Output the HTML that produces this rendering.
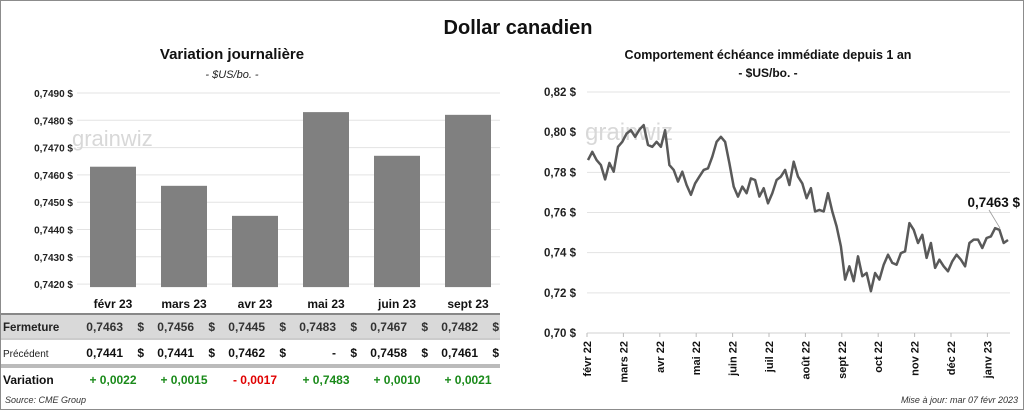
<!DOCTYPE html>
<html><head><meta charset="utf-8">
<style>
body{margin:0;width:1024px;height:410px;overflow:hidden;background:#fff;font-family:"Liberation Sans",sans-serif;}
#wrap{position:absolute;left:0;top:0;width:1022px;height:408px;border:1px solid #8c8c8c;}
</style></head><body>
<div id="wrap"></div>
<svg id="svg" width="1024" height="410" style="position:absolute;left:0;top:0" font-family="Liberation Sans, sans-serif">
<text x="518" y="34" text-anchor="middle" font-size="20" font-weight="bold" fill="#111">Dollar canadien</text>
<text x="232" y="59" text-anchor="middle" font-size="15" font-weight="bold" fill="#111">Variation  journalière</text>
<text x="232" y="78" text-anchor="middle" font-size="11" font-style="italic" fill="#222">- $US/bo. -</text>
<text x="768" y="59" text-anchor="middle" font-size="12.5" font-weight="bold" fill="#111">Comportement échéance immédiate depuis 1 an</text>
<text x="768" y="77" text-anchor="middle" font-size="12" font-weight="bold" fill="#111">- $US/bo. -</text>
<g id="left"></g>
<g id="right"></g>
<g id="table"></g>
<text x="5" y="403" font-size="9" font-style="italic" fill="#333">Source: CME Group</text>
<text x="1018" y="403" text-anchor="end" font-size="9" font-style="italic" fill="#333">Mise à jour: mar 07 févr 2023</text>
</svg>
<script>
const barCats=["févr 23","mars 23","avr 23","mai 23","juin 23","sept 23"];
const barVals=[0.7463,0.7456,0.7445,0.7483,0.7467,0.7482];
const prevVals=["0,7441","0,7441","0,7462","-","0,7458","0,7461"];
const varVals=["+ 0,0022","+ 0,0015","- 0,0017","+ 0,7483","+ 0,0010","+ 0,0021"];
const leftTicks=[0.749,0.748,0.747,0.746,0.745,0.744,0.743,0.742];
const lineVals=[0.7861,0.7902,0.7861,0.7836,0.7765,0.7847,0.7803,0.7927,0.7952,0.7993,0.8010,0.7977,0.8013,0.8035,0.7936,0.7927,0.7952,0.7927,0.8010,0.7836,0.7812,0.7754,0.7803,0.7737,0.7688,0.7745,0.7779,0.7812,0.7820,0.7878,0.7952,0.7977,0.7952,0.7845,0.7729,0.7679,0.7729,0.7696,0.7770,0.7762,0.7679,0.7721,0.7646,0.7696,0.7762,0.7779,0.7812,0.7737,0.7853,0.7779,0.7745,0.7671,0.7721,0.7605,0.7613,0.7605,0.7696,0.7605,0.7531,0.7431,0.7266,0.7332,0.7258,0.7382,0.7283,0.7299,0.7208,0.7299,0.7266,0.7340,0.7390,0.7349,0.7340,0.7398,0.7407,0.7547,0.7514,0.7448,0.7489,0.7374,0.7448,0.7324,0.7365,0.7332,0.7307,0.7357,0.7390,0.7365,0.7332,0.7448,0.7465,0.7465,0.7423,0.7473,0.7481,0.7522,0.7514,0.7448,0.7463];
const rightTicks=[0.82,0.80,0.78,0.76,0.74,0.72,0.70];
const monthLabels=["févr 22","mars 22","avr 22","mai 22","juin 22","juil 22","août 22","sept 22","oct 22","nov 22","déc 22","janv 23"];
const NS="http://www.w3.org/2000/svg";
function mk(p,tag,at,txt){const e=document.createElementNS(NS,tag);for(const k in at)e.setAttribute(k,at[k]);if(txt!==undefined)e.textContent=txt;p.appendChild(e);return e;}
const fmt=v=>v.toFixed(4).replace('.',',')+' $';
const L=document.getElementById('left');
const ly=v=>93+(0.749-v)*27300;
const lx=i=>113+i*71;
leftTicks.forEach(t=>{
 const g=mk(L,'line',{x1:77,x2:500,y1:ly(t),y2:ly(t),stroke:'#e3e3e3'});
 
 const tx=mk(L,'text',{x:73,y:ly(t)+4,'text-anchor':'end','font-size':10,'font-weight':'bold',fill:'#222'},fmt(t));
 
});
const w1=mk(L,'text',{x:72,y:146,'font-size':22,fill:'#d8d8d8'},'grainwiz');

barVals.forEach((v,i)=>{
 const r=mk(L,'rect',{x:lx(i)-23,y:ly(v),width:46,height:ly(0.742)-ly(v)+3,fill:'#808080'});
 
});
const T=document.getElementById('table');
mk(T,'rect',{x:1,y:314,width:499,height:24,fill:'#d9d9d9'});
mk(T,'line',{x1:1,x2:500,y1:314,y2:314,stroke:'#888','stroke-width':2});
mk(T,'line',{x1:1,x2:500,y1:339,y2:339,stroke:'#999'});
mk(T,'line',{x1:1,x2:500,y1:365,y2:365,stroke:'#777'});
mk(T,'line',{x1:1,x2:500,y1:367,y2:367,stroke:'#777'});
mk(T,'text',{x:3,y:331,'font-size':11.5,'font-weight':'bold',fill:'#222'},'Fermeture');
mk(T,'text',{x:3,y:357,'font-size':10,fill:'#222'},'Précédent');
mk(T,'text',{x:3,y:384,'font-size':12,'font-weight':'bold',fill:'#111'},'Variation');
barCats.forEach((c,i)=>{
 const x=lx(i);
 const h=mk(T,'text',{x:x,y:308,'text-anchor':'middle','font-size':12,'font-weight':'bold',fill:'#111'},c);
 
 mk(T,'text',{x:x+10,y:331,'text-anchor':'end','font-size':12,'font-weight':'bold',fill:'#333'},barVals[i].toFixed(4).replace('.',','));
 mk(T,'text',{x:x+31,y:331,'text-anchor':'end','font-size':12,'font-weight':'bold',fill:'#333'},'$');
 mk(T,'text',{x:x+10,y:357,'text-anchor':'end','font-size':12,'font-weight':'bold',fill:'#111'},prevVals[i]);
 mk(T,'text',{x:x+31,y:357,'text-anchor':'end','font-size':12,'font-weight':'bold',fill:'#111'},'$');
 const neg=varVals[i][0]==='-';
 const vt=mk(T,'text',{x:x,y:384,'text-anchor':'middle','font-size':12,'font-weight':'bold',fill:neg?'#e00000':'#1a8a1a'},varVals[i]);
 
});
const R=document.getElementById('right');
const ry=v=>92+(0.82-v)*(241/0.12);
const rx=i=>588+i*(420/(lineVals.length-1));
rightTicks.forEach(t=>{
 const g=mk(R,'line',{x1:587,x2:1010,y1:ry(t),y2:ry(t),stroke:t===0.70?'#d0d0d0':'#e3e3e3'});
 
 const tx=mk(R,'text',{x:576,y:ry(t)+4,'text-anchor':'end','font-size':11.5,'font-weight':'bold',fill:'#222'},t.toFixed(2).replace('.',',')+' $');
 
});
const w2=mk(R,'text',{x:585,y:140,'font-size':24,fill:'#d8d8d8'},'grainwiz');

monthLabels.forEach((m,i)=>{
 const x=587+i*36.4;
 mk(R,'line',{x1:x,x2:x,y1:333,y2:337,stroke:'#bbb'});
 const tx=mk(R,'text',{x:0,y:0,'text-anchor':'end','font-size':11,'font-weight':'bold',fill:'#111',transform:`translate(${x+4},341) rotate(-90)`},m);
 
});
const pts=lineVals.map((v,i)=>rx(i).toFixed(1)+','+ry(v).toFixed(1)).join(' ');
const pl=mk(R,'polyline',{points:pts,fill:'none',stroke:'#595959','stroke-width':2.5,'stroke-linejoin':'round'});

const li=lineVals.length-1;
mk(R,'line',{x1:989,y1:210,x2:1000,y2:ry(0.7522),stroke:'#999','stroke-width':0.8});
const lab=mk(R,'text',{x:1020,y:207,'text-anchor':'end','font-size':13.5,'font-weight':'bold',fill:'#111'},fmt(lineVals[li]));

</script>
</body></html>
